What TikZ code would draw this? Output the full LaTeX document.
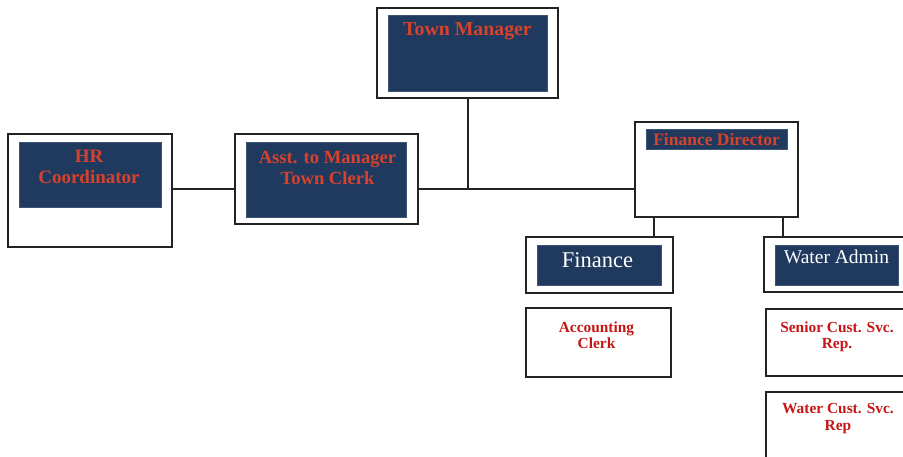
\documentclass[tikz,border=0pt]{standalone}
\usepackage{fontspec}
\setmainfont{Liberation Serif}
\definecolor{navy}{RGB}{31,58,94}
\definecolor{navyedge}{RGB}{60,85,115}
\definecolor{hdred}{RGB}{214,66,44}
\definecolor{boxred}{RGB}{198,22,22}
\definecolor{edge}{RGB}{35,35,35}
\begin{document}
\begin{tikzpicture}[x=1pt,y=-1pt,
  outerbox/.style={draw=edge,line width=1.8pt,fill=white,inner sep=0pt,outer sep=0pt},
  innerbox/.style={draw=navyedge,line width=0.5pt,fill=navy,inner sep=0pt,outer sep=0pt},
  conn/.style={draw=edge,line width=1.7pt},
  hdtext/.style={text=hdred,font=\bfseries\fontsize{19}{22}\selectfont,anchor=base,inner sep=0pt,align=center},
  fdtext/.style={text=hdred,font=\bfseries\fontsize{17.5}{20}\selectfont,anchor=base,inner sep=0pt},
  whtext/.style={text=white,anchor=base,inner sep=0pt},
  rdtext/.style={text=boxred,font=\bfseries\fontsize{15.4}{17}\selectfont,anchor=base,inner sep=0pt}]
\useasboundingbox (0,0) rectangle (903,456);
\clip (0,0) rectangle (903,456);
\fill[white] (0,0) rectangle (903,456);
% boxes
\node[outerbox,minimum width=181pt,minimum height=90pt] (TM) at (467.5,53) {};
\node[innerbox,minimum width=159pt,minimum height=76pt] (TMi) at (467.5,53) {};
\node[outerbox,minimum width=164pt,minimum height=113pt] (HR) at (90,190.5) {};
\node[innerbox,minimum width=142pt,minimum height=65pt] (HRi) at (90,174.5) {};
\node[outerbox,minimum width=183pt,minimum height=90pt] (AS) at (326.5,179) {};
\node[innerbox,minimum width=160pt,minimum height=75pt] (ASi) at (326,179.5) {};
\node[outerbox,minimum width=163pt,minimum height=95pt] (FD) at (716.5,169.5) {};
\node[innerbox,minimum width=141pt,minimum height=20pt] (FDi) at (716.5,139) {};
\node[outerbox,minimum width=147pt,minimum height=56pt] (FI) at (599.5,265) {};
\node[innerbox,minimum width=124pt,minimum height=40pt] (FIi) at (599,265) {};
\node[outerbox,minimum width=145pt,minimum height=55pt] (WA) at (836.5,264.5) {};
\node[innerbox,minimum width=123pt,minimum height=40pt] (WAi) at (836.5,265) {};
\node[outerbox,minimum width=145pt,minimum height=69pt] (AC) at (598.5,342.5) {};
\node[outerbox,minimum width=145pt,minimum height=67pt] (SC) at (838.5,342.5) {};
\node[outerbox,minimum width=145pt,minimum height=69pt] (WC) at (838.5,426.5) {};
% texts
\node[hdtext,font=\bfseries\fontsize{19.8}{22}\selectfont] (tTM) at (467.5,35) {Town Manager};
\node[hdtext] (tHR1) at (89,162) {HR};
\node[hdtext] (tHR2) at (89,183) {Coordinator};
\node[hdtext,font=\bfseries\fontsize{18.6}{21}\selectfont] (tAS1) at (327.5,163) {Asst. to Manager};
\node[hdtext,font=\bfseries\fontsize{18.6}{21}\selectfont] (tAS2) at (327.5,184) {Town Clerk};
\node[fdtext] (tFD) at (716.5,145) {Finance Director};
\node[whtext,font=\fontsize{22.5}{25}\selectfont] (tFI) at (597.5,267) {Finance};
\node[whtext,font=\fontsize{19.5}{22}\selectfont] (tWA) at (836.5,263) {Water Admin};
\node[rdtext] (tAC1) at (596.5,332) {Accounting};
\node[rdtext] (tAC2) at (596.5,348) {Clerk};
\node[rdtext] (tSC1) at (837,332) {Senior Cust. Svc.};
\node[rdtext] (tSC2) at (837,348) {Rep.};
\node[rdtext] (tWC1) at (838,413) {Water Cust. Svc.};
\node[rdtext] (tWC2) at (838,430) {Rep};
% connectors
\coordinate (j) at (468,189);
\coordinate (fdl) at (654,0);
\coordinate (fdr) at (783,0);
\draw[conn] (j |- TM.south) -- (j);
\draw[conn] (HR.east |- j) -- (AS.west |- j);
\draw[conn] (AS.east |- j) -- (FD.west |- j);
\draw[conn] (FD.south -| fdl) -- (FI.north -| fdl);
\draw[conn] (FD.south -| fdr) -- (WA.north -| fdr);
\end{tikzpicture}
\end{document}
